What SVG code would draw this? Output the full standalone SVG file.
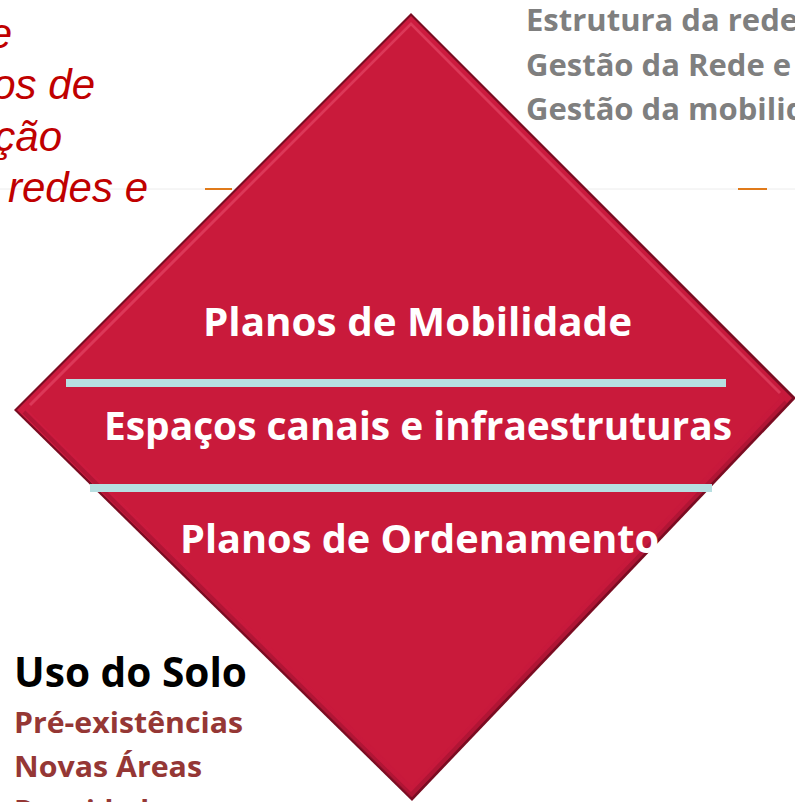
<svg xmlns="http://www.w3.org/2000/svg" width="795" height="802" viewBox="0 0 795 802">
<style>
.red{font-family:"Liberation Sans",Arial,sans-serif;font-style:italic;font-size:42px;fill:#c00000}
.grey{font-family:"Open Sans","Noto Sans",sans-serif;font-weight:bold;font-size:31px;fill:#7f7f7f}
.wt{font-family:"Open Sans","Noto Sans",sans-serif;font-weight:bold;font-size:40px;fill:#ffffff}
.hd{font-family:"Open Sans","Noto Sans",sans-serif;font-weight:bold;font-size:41px;fill:#000000}
.sub{font-family:"Open Sans","Noto Sans",sans-serif;font-weight:bold;font-size:29px;fill:#953735}
.bar{fill:#b7dfe1}
</style>
<defs>
<linearGradient id="g" x1="0" y1="0" x2="1" y2="1">
<stop offset="0" stop-color="#d01c40"/>
<stop offset="1" stop-color="#c4183a"/>
</linearGradient>
</defs>
<rect width="795" height="802" fill="#ffffff"/>
<g id="connectors">
<line x1="0" y1="189" x2="795" y2="189" stroke="#ececec" stroke-width="1"/>
<line x1="205" y1="189" x2="232" y2="189" stroke="#e07a1a" stroke-width="2"/>
<line x1="738" y1="189" x2="767" y2="189" stroke="#e07a1a" stroke-width="2"/>
</g>
<g id="left-text">
<text class="red" x="12" y="48" text-anchor="end">e</text>
<text class="red" x="95" y="99" text-anchor="end">os de</text>
<text class="red" x="62" y="151" text-anchor="end">ção</text>
<text class="red" x="148" y="202" text-anchor="end">redes e</text>
</g>
<g id="top-right-text">
<text class="grey" x="526" y="31">Estrutura da rede</text>
<text class="grey" x="526" y="76">Gestão da Rede e</text>
<text class="grey" x="526" y="120">Gestão da mobilid</text>
</g>
<g id="diamond">
<polygon points="411,13 796,398 412,801 14,410" fill="#7a0c22"/>
<polygon points="411,16 792,398 412,797 17,410" fill="url(#g)"/>
<polyline points="30,405 411,24 780,393" fill="none" stroke="#e8506e" stroke-width="3" opacity="0.55"/>
<polyline points="24,412 411,795 786,402" fill="none" stroke="#a01230" stroke-width="4" opacity="0.6"/>
<polygon points="411,26 780,398 412,786 28,410" fill="#c91a3b"/>
<rect class="bar" x="66" y="379" width="660" height="8"/>
<rect class="bar" x="90" y="484" width="622" height="8"/>
<text class="wt" x="203" y="336" textLength="429" lengthAdjust="spacingAndGlyphs">Planos de Mobilidade</text>
<text class="wt" x="104" y="440" textLength="628" lengthAdjust="spacingAndGlyphs">Espaços canais e infraestruturas</text>
<text class="wt" x="180" y="553" textLength="479" lengthAdjust="spacingAndGlyphs">Planos de Ordenamento</text>
</g>
<g id="uso-do-solo">
<text class="hd" x="14" y="687" textLength="233" lengthAdjust="spacingAndGlyphs">Uso do Solo</text>
<text class="sub" x="14" y="733" textLength="229" lengthAdjust="spacingAndGlyphs">Pré-existências</text>
<text class="sub" x="14" y="777" textLength="188" lengthAdjust="spacingAndGlyphs">Novas Áreas</text>
<text class="sub" x="14" y="821">Densidade</text>
</g>
</svg>
